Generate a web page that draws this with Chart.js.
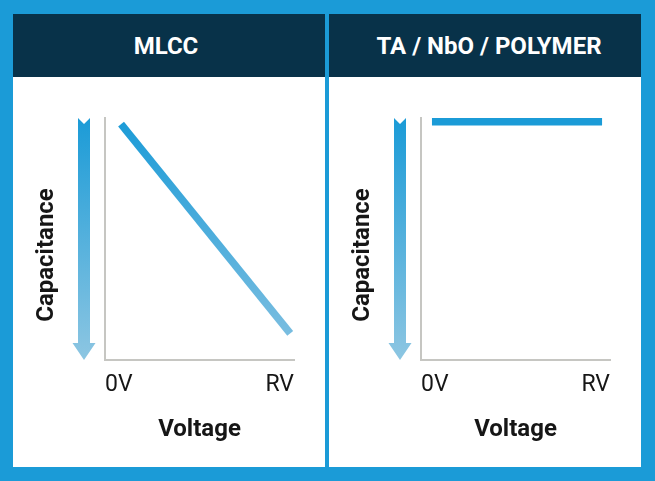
<!DOCTYPE html>
<html>
<head>
<meta charset="utf-8">
<script src="https://cdn.jsdelivr.net/npm/chart.js@4.4.1/dist/chart.umd.min.js"></script>
<style>
  html, body { margin: 0; padding: 0; }
  body {
    width: 655px; height: 481px; position: relative; overflow: hidden;
    background: #1b9bd7; font-family: Roboto, "Liberation Sans", sans-serif;
  }
  .panel { position: absolute; top: 14px; width: 312px; height: 453px; background: #fff; }
  #p1 { left: 13px; }
  #p2 { left: 329px; }
  .head {
    height: 63px; background: #083249; color: #fff;
    font-weight: bold; font-size: 24px;
    display: flex; align-items: center; justify-content: center;
  }
  #p1 .head { padding-right: 6px; }
  #p2 .head { padding-left: 8px; }
  canvas { display: block; }
</style>
</head>
<body>
<div class="panel" id="p1">
  <div class="head">MLCC</div>
  <canvas id="mlcc-chart" width="312" height="390"></canvas>
</div>
<div class="panel" id="p2">
  <div class="head">TA / NbO / POLYMER</div>
  <canvas id="tant-chart" width="312" height="390"></canvas>
</div>

<script>
// values (x: 0 = 0V, 1 = RV; y: relative capacitance)
var xTickValues = [0, 1];
var xTickLabels = ['0V', 'RV'];
var mlccVoltage = [0.085, 0.98];
var mlccCapacitance = [0.975, 0.11];
var tantVoltage = [0.058, 0.958];
var tantCapacitance = [0.985, 0.985];
var xAxisTitle = 'Voltage';
var yAxisTitle = 'Capacitance';

var BLUE = '#1b9bd7';
var LIGHT_BLUE = '#8dc6e2';
var TEXT = '#161616';

// down arrow + rotated "Capacitance" label to the left of the y axis
var capArrow = {
  id: 'capArrow',
  beforeDatasetsDraw: function(chart) {
    var ca = chart.chartArea;
    var c = chart.ctx;
    var cx = ca.left - 21, top = ca.top, tip = ca.bottom;
    var half = 6, headHalf = 11.5, headLen = 17, notch = 6;

    var g = c.createLinearGradient(0, top, 0, tip);
    g.addColorStop(0, BLUE);
    g.addColorStop(1, LIGHT_BLUE);

    c.save();
    c.fillStyle = g;
    c.beginPath();
    c.moveTo(cx - half, top);
    c.lineTo(cx, top + notch);
    c.lineTo(cx + half, top);
    c.lineTo(cx + half, tip - headLen);
    c.lineTo(cx + headHalf, tip - headLen);
    c.lineTo(cx, tip);
    c.lineTo(cx - headHalf, tip - headLen);
    c.lineTo(cx - half, tip - headLen);
    c.closePath();
    c.fill();

    c.translate(ca.left - 58, ca.top + 137);
    c.rotate(-Math.PI / 2);
    c.font = 'bold 24px Roboto';
    c.fillStyle = TEXT;
    c.textAlign = 'center';
    c.textBaseline = 'middle';
    c.fillText(yAxisTitle, 0, 0);
    c.restore();
  }
};

function lineGradient(context) {
  var chart = context.chart;
  var ca = chart.chartArea;
  if (!ca) return BLUE;
  var g = chart.ctx.createLinearGradient(0, ca.top, 0, ca.bottom);
  g.addColorStop(0, BLUE);
  g.addColorStop(1, '#84c1e1');
  return g;
}

function toPoints(xs, ys) {
  var pts = [];
  for (var i = 0; i < xs.length; i++) pts.push({ x: xs[i], y: ys[i] });
  return pts;
}

function makeChart(id, xs, ys, color) {
  return new Chart(document.getElementById(id), {
    type: 'line',
    data: {
      datasets: [{
        data: toPoints(xs, ys),
        borderColor: color,
        borderWidth: 7.5,
        borderCapStyle: 'butt',
        pointRadius: 0,
        tension: 0
      }]
    },
    options: {
      responsive: false,
      animation: false,
      events: [],
      layout: { padding: { left: 0, right: 31, top: 41, bottom: 0 } },
      plugins: { legend: { display: false }, tooltip: { enabled: false } },
      scales: {
        x: {
          type: 'linear',
          min: 0,
          max: 1,
          grid: { display: false, drawTicks: false },
          border: { display: true, color: '#c6c6c2', width: 2 },
          afterBuildTicks: function(scale) {
            scale.ticks = xTickValues.map(function(v) { return { value: v }; });
          },
          afterFit: function(scale) { scale.height = 107; },
          ticks: {
            align: 'inner',
            padding: 11,
            color: TEXT,
            font: { family: 'Roboto', size: 23 },
            callback: function(value, index) { return xTickLabels[index]; }
          },
          title: {
            display: true,
            text: xAxisTitle,
            color: TEXT,
            padding: { top: 0, bottom: 23 },
            font: { family: 'Roboto', size: 24, weight: 'bold' }
          }
        },
        y: {
          min: 0,
          max: 1,
          grid: { display: false, drawTicks: false },
          border: { display: true, color: '#c6c6c2', width: 2 },
          ticks: { display: false },
          afterFit: function(scale) { scale.width = 92; }
        }
      }
    },
    plugins: [capArrow]
  });
}

makeChart('mlcc-chart', mlccVoltage, mlccCapacitance, lineGradient);
makeChart('tant-chart', tantVoltage, tantCapacitance, BLUE);
</script>
</body>
</html>
